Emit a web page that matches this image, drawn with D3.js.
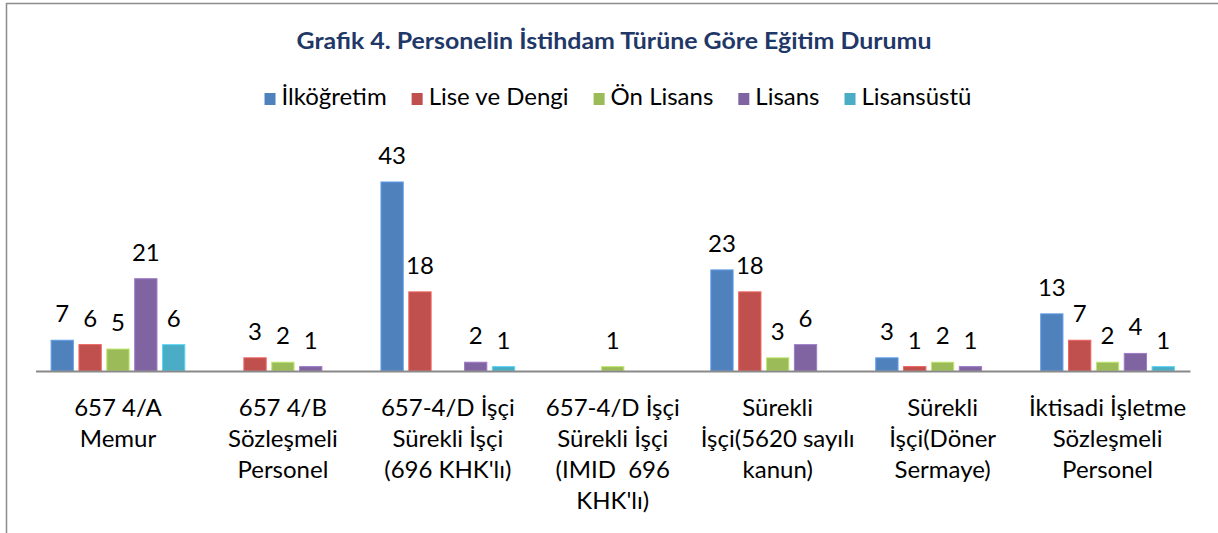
<!doctype html>
<html>
  <head>
    <meta charset="utf-8">
    <title>Grafik 4</title>
    <script src="https://cdn.jsdelivr.net/npm/d3@7"></script>
    <style>
      body { margin: 0; background: #fff; }
      text { font-family: Lato, "Open Sans", sans-serif; }
    </style>
  </head>
  <body>
  <script>

// categories (line breaks kept as in the chart)
const categories = [
  "657 4/A\nMemur",
  "657 4/B\nSözleşmeli\nPersonel",
  "657-4/D İşçi\nSürekli İşçi\n(696 KHK'lı)",
  "657-4/D İşçi\nSürekli İşçi\n(IMID  696\nKHK'lı)",
  "Sürekli\nİşçi(5620 sayılı\nkanun)",
  "Sürekli\nİşçi(Döner\nSermaye)",
  "İktisadi İşletme\nSözleşmeli\nPersonel"
];
const seriesNames = ["İlköğretim", "Lise ve Dengi", "Ön Lisans", "Lisans", "Lisansüstü"];
const colors = ["#4F81BD", "#C0504D", "#9BBB59", "#8064A2", "#4BACC6"];

// values per series, in category order (0 = no bar)
const ilkogretim = [7, 0, 43, 0, 23, 3, 13];
const lise       = [6, 3, 18, 0, 18, 1, 7];
const onLisans   = [5, 2, 0, 1, 3, 2, 2];
const lisans     = [21, 1, 2, 0, 6, 1, 4];
const lisansustu = [6, 0, 1, 0, 0, 0, 1];
const seriesValues = [ilkogretim, lise, onLisans, lisans, lisansustu];

const W = 1218, H = 533;
const svg = d3.select("body").append("svg")
  .attr("width", W)
  .attr("height", H);

// outer frame (left and top edges visible)
svg.append("path")
  .attr("d", `M6.5,${H} V3.5 H${W}`)
  .attr("fill", "none")
  .attr("stroke", "#8c8c8c")
  .attr("stroke-width", 1.5);

// title
svg.append("text")
  .attr("x", 614)
  .attr("y", 49)
  .attr("text-anchor", "middle")
  .attr("font-weight", "bold")
  .attr("font-size", 23)
  .attr("textLength", 635)
  .attr("lengthAdjust", "spacingAndGlyphs")
  .attr("fill", "#1F3868")
  .text("Grafik 4. Personelin İstihdam Türüne Göre Eğitim Durumu");

// scales
const x0 = d3.scaleBand()
  .domain(categories)
  .range([35.5, 1190])
  .paddingInner(0)
  .paddingOuter(0);

const x1 = d3.scaleBand()
  .domain(seriesNames)
  .range([0, x0.bandwidth()])
  .paddingInner(0.2)
  .paddingOuter(0.56);

const y = d3.scaleLinear()
  .domain([0, 50])
  .range([371, 151.2]);

const color = d3.scaleOrdinal().domain(seriesNames).range(colors);

// flatten into rows
const rows = [];
seriesNames.forEach((s, si) => {
  categories.forEach((c, ci) => {
    rows.push({ series: s, cat: c, value: seriesValues[si][ci] });
  });
});
const shown = rows.filter(d => d.value > 0);

// bars
svg.append("g").selectAll("rect")
  .data(shown)
  .join("rect")
  .attr("x", d => x0(d.cat) + x1(d.series))
  .attr("y", d => y(d.value))
  .attr("width", x1.bandwidth())
  .attr("height", d => y(0) - y(d.value))
  .attr("fill", d => color(d.series))
  .attr("stroke", d => d3.color(color(d.series)).brighter(0.6))
  .attr("stroke-width", 1);

// value labels
svg.append("g").selectAll("text")
  .data(shown)
  .join("text")
  .attr("x", d => x0(d.cat) + x1(d.series) + x1.bandwidth() / 2)
  .attr("y", d => y(d.value) - 18)
  .attr("text-anchor", "middle")
  .attr("font-size", 24)
  .attr("fill", "#000")
  .text(d => d.value);

// x axis line
const xAxis = svg.append("g")
  .attr("transform", `translate(0,${y(0)})`)
  .call(d3.axisBottom(x0).tickSize(0).tickFormat(""));
xAxis.select(".domain")
  .attr("stroke", "#898989")
  .attr("stroke-width", 2);

// category labels (multi-line)
const catG = svg.append("g").selectAll("text")
  .data(categories)
  .join("text")
  .attr("x", d => x0(d) + x0.bandwidth() / 2)
  .attr("y", 416)
  .attr("text-anchor", "middle")
  .attr("font-size", 24)
  .attr("fill", "#000");
catG.each(function(d) {
  const t = d3.select(this);
  d.split("\n").forEach((line, i) => {
    t.append("tspan")
      .attr("x", t.attr("x"))
      .attr("dy", i === 0 ? 0 : 31)
      .attr("xml:space", "preserve")
      .text(line);
  });
});

// legend
const legend = svg.append("g");
const gap = 25;
let lx = 0;
seriesNames.forEach((s, i) => {
  const item = legend.append("g").attr("transform", `translate(${lx},0)`);
  item.append("rect")
    .attr("x", 0)
    .attr("y", 93)
    .attr("width", 11)
    .attr("height", 12)
    .attr("fill", colors[i]);
  const t = item.append("text")
    .attr("x", 17)
    .attr("y", 105)
    .attr("font-size", 24)
    .attr("fill", "#000")
    .text(s);
  lx += 17 + t.node().getComputedTextLength() + gap;
});
const legendW = lx - gap;
legend.attr("transform", `translate(${618 - legendW / 2},0)`);

  </script>
</body>
</html>
